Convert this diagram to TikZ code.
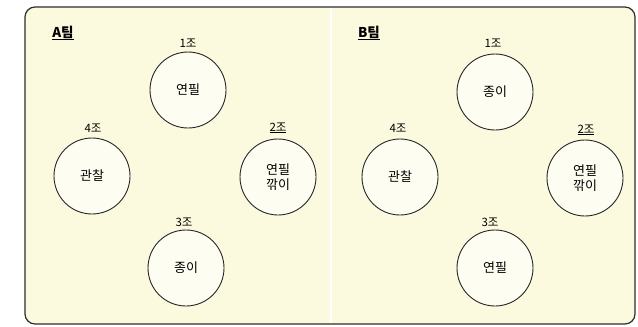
\documentclass[tikz,border=0pt]{standalone}
\usepackage{fontspec}
\setmainfont{Noto Sans CJK KR}
\definecolor{bgyellow}{RGB}{252,250,222}
\definecolor{circfill}{RGB}{254,253,242}
\definecolor{framegray}{RGB}{45,45,45}
\begin{document}
\begin{tikzpicture}[x=1pt,y=-1pt,
  group/.style={circle, draw=black!85, line width=0.9pt, fill=circfill,
    minimum size=76pt, inner sep=0pt, align=center,
    font=\fontsize{13}{17}\selectfont},
  grplabel/.style={font=\fontsize{11.5}{13}\selectfont, inner sep=1pt},
  teamlabel/.style={font=\fontsize{13.5}{15}\selectfont\bfseries, inner sep=1pt}]
\useasboundingbox (0,0) rectangle (638,327);
\fill[white] (0,0) rectangle (638,327);
\draw[framegray, line width=1.2pt, fill=bgyellow, rounded corners=10pt] (25,7) rectangle (635,324);
\draw[white, line width=2pt] (331,8) -- (331,323);
% Team A
\node[teamlabel] (ta) at (63,33) {\underline{A팀}};
\node[group] (a1) at (188,90) {연필};
\node[group] (a2) at (278,177) {연필\\[-2pt]깎이};
\node[group] (a3) at (186,268) {종이};
\node[group] (a4) at (92,176) {관찰};
\node[grplabel] (la1) at (188,43) {1조};
\node[grplabel] (la2) at (278,128) {\underline{2조}};
\node[grplabel] (la3) at (184,222) {3조};
\node[grplabel] (la4) at (93,128) {4조};
% Team B
\node[teamlabel] (tb) at (369,33) {\underline{B팀}};
\node[group] (b1) at (495,92) {종이};
\node[group] (b2) at (585,178) {연필\\[-2pt]깎이};
\node[group] (b3) at (495,268) {연필};
\node[group] (b4) at (400,177) {관찰};
\node[grplabel] (lb1) at (493,43) {1조};
\node[grplabel] (lb2) at (586,130) {\underline{2조}};
\node[grplabel] (lb3) at (490,222) {3조};
\node[grplabel] (lb4) at (398,128) {4조};
\end{tikzpicture}
\end{document}
